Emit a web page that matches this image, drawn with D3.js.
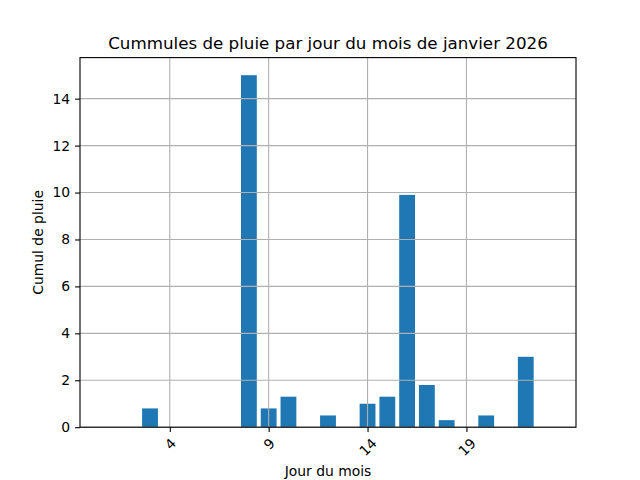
<!DOCTYPE html>
<html><head><meta charset="utf-8">
<script src="https://cdn.jsdelivr.net/npm/d3@7"></script>
<style>body{margin:0;background:#fff}svg{font-family:"DejaVu Sans",sans-serif}</style>
</head><body>
<svg id="c" width="640" height="480"></svg>
<script>
const days = [1,2,3,4,5,6,7,8,9,10,11,12,13,14,15,16,17,18,19,20,21,22,23];
const rain = [0,0,0.8,0,0,0,0,15.0,0.8,1.3,0,0.5,0,1.0,1.3,9.9,1.8,0.3,0,0.5,0,3.0,0];
const xTicks = [4,9,14,19];
const yTicks = [0,2,4,6,8,10,12,14];
const title = "Cummules de pluie par jour du mois de janvier 2026";
const xLabel = "Jour du mois";
const yLabel = "Cumul de pluie";

const L=80, R=576, T=57.6, B=427.2;
const svg = d3.select("#c");
const bw = 0.8;
const lo = days[0]-bw/2, hi = days[days.length-1]+bw/2, m=(hi-lo)*0.05;
const x = d3.scaleLinear().domain([lo-m, hi+m]).range([L,R]);
const ymax = d3.max(rain);
const y = d3.scaleLinear().domain([0, ymax*1.05]).range([B,T]);

// bars
svg.append("g").selectAll("rect").data(days).join("rect")
  .attr("x", d=>x(d-bw/2)).attr("width", d=>x(d+bw/2)-x(d-bw/2))
  .attr("y", (d,i)=>y(rain[i])).attr("height",(d,i)=>y(0)-y(rain[i]))
  .attr("fill","#1f77b4");

// grid
const g = svg.append("g").attr("stroke","#b0b0b0").attr("stroke-width",1.1);
g.selectAll(".vx").data(xTicks).join("line").attr("x1",d=>x(d)).attr("x2",d=>x(d)).attr("y1",T).attr("y2",B);
g.selectAll(".hy").data(yTicks).join("line").attr("y1",d=>y(d)).attr("y2",d=>y(d)).attr("x1",L).attr("x2",R);

// frame
svg.append("rect").attr("x",L).attr("y",T).attr("width",R-L).attr("height",B-T)
  .attr("fill","none").attr("stroke","#000").attr("stroke-width",1.1);

// y axis
const ya = svg.append("g").attr("transform",`translate(${L},0)`)
  .call(d3.axisLeft(y).tickValues(yTicks).tickSize(4.9).tickPadding(4.9).tickFormat(d3.format("d")));
ya.select(".domain").remove();
ya.selectAll("line").attr("stroke","#000").attr("stroke-width",1.1);
ya.selectAll("text").attr("font-size","13.9px").attr("font-family","DejaVu Sans").attr("fill","#000");

// x axis
const xa = svg.append("g").attr("transform",`translate(0,${B})`)
  .call(d3.axisBottom(x).tickValues(xTicks).tickSize(4.9).tickFormat(d3.format("d")));
xa.select(".domain").remove();
xa.selectAll("line").attr("stroke","#000").attr("stroke-width",1.1);
xa.selectAll("text").attr("font-size","13.9px").attr("font-family","DejaVu Sans").attr("fill","#000")
  .attr("dy",null).attr("y",null).attr("dominant-baseline","central").attr("text-anchor","middle")
  .each(function(){
    const w = this.getComputedTextLength();
    const h = 13.9*0.75;
    const bh = (w+h)*Math.SQRT1_2;
    d3.select(this).attr("transform",`translate(0,${9.8+bh/2}) rotate(-45)`);
  });

// labels
svg.append("text").attr("x",(L+R)/2).attr("y",49).attr("text-anchor","middle")
  .attr("font-size","16.7px").text(title);
svg.append("text").attr("x",(L+R)/2).attr("y",476).attr("text-anchor","middle")
  .attr("font-size","13.9px").text(xLabel);
svg.append("text").attr("transform",`translate(43,${(T+B)/2}) rotate(-90)`).attr("text-anchor","middle")
  .attr("font-size","13.9px").text(yLabel);
</script>
</body></html>
